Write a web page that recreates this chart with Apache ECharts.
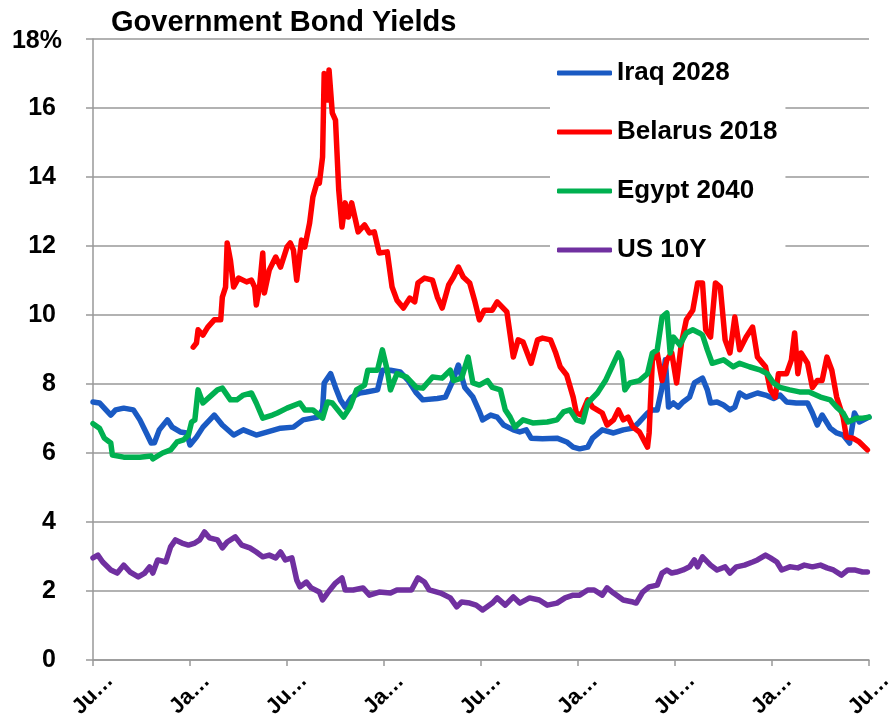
<!DOCTYPE html>
<html>
<head>
<meta charset="utf-8">
<title>Government Bond Yields</title>
<script src="https://cdn.jsdelivr.net/npm/echarts@6/dist/echarts.min.js"></script>
<style>
  html, body { margin: 0; padding: 0; background: #fff; }
  #chart { width: 893px; height: 714px; }
</style>
</head>
<body>
<div id="chart"></div>
<script>
// Months elapsed since July 2010, and yields in percent, for each bond.
const iraqMonths = [0.0,0.4,1.1,1.4,1.9,2.5,2.9,3.3,3.6,3.8,4.1,4.6,4.9,5.4,5.8,6.0,6.4,6.8,7.5,8.0,8.7,9.3,10.1,10.8,11.6,12.4,13.0,13.9,14.2,14.3,14.7,15.0,15.3,15.6,16.0,16.5,16.9,17.6,17.9,18.4,19.0,19.5,20.0,20.4,21.3,21.8,22.2,22.6,23.0,23.5,23.9,24.1,24.6,25.0,25.4,26.0,26.4,26.8,27.1,27.8,28.7,29.3,29.7,30.1,30.6,30.9,31.5,32.2,32.8,33.4,33.8,34.3,34.6,34.9,35.2,35.4,35.6,35.9,36.2,36.5,36.9,37.2,37.7,38.0,38.2,38.6,39.0,39.4,39.7,40.0,40.4,41.1,41.6,42.1,42.5,42.9,43.5,44.2,44.5,44.8,45.1,45.6,46.0,46.4,46.8,47.1,47.4,48.0];
const iraqYields = [7.48,7.45,7.10,7.25,7.30,7.25,6.96,6.58,6.29,6.30,6.67,6.96,6.75,6.61,6.58,6.23,6.46,6.75,7.10,6.81,6.52,6.67,6.52,6.61,6.72,6.75,6.96,7.04,7.25,8.03,8.30,7.90,7.54,7.33,7.62,7.74,7.77,7.83,8.40,8.40,8.35,8.10,7.74,7.54,7.58,7.62,8.03,8.55,7.90,7.62,7.20,6.96,7.10,7.04,6.81,6.67,6.61,6.67,6.43,6.41,6.43,6.32,6.17,6.12,6.17,6.43,6.67,6.58,6.67,6.72,6.90,7.16,7.25,7.25,7.90,8.70,7.33,7.45,7.33,7.48,7.62,8.03,8.17,7.83,7.45,7.48,7.39,7.25,7.33,7.74,7.62,7.74,7.68,7.58,7.68,7.48,7.45,7.45,7.16,6.81,7.10,6.72,6.58,6.52,6.29,7.16,6.90,7.04];

const belarusMonths = [6.2,6.4,6.5,6.8,7.1,7.5,7.9,8.0,8.2,8.3,8.5,8.7,9.0,9.5,9.8,10.0,10.1,10.3,10.5,10.6,10.9,11.3,11.6,12.0,12.2,12.4,12.6,12.9,13.1,13.4,13.6,13.9,14.0,14.2,14.3,14.5,14.6,14.8,15.0,15.2,15.4,15.6,15.8,16.0,16.4,16.8,17.1,17.4,17.7,18.2,18.5,18.8,19.2,19.6,19.9,20.1,20.5,21.0,21.3,21.6,22.0,22.3,22.6,22.9,23.3,23.6,23.9,24.2,24.7,25.0,25.6,26.0,26.3,26.6,27.1,27.5,27.8,28.3,28.6,28.9,29.3,29.7,29.9,30.2,30.6,30.9,31.5,31.8,32.2,32.5,32.8,33.1,33.4,33.8,34.3,34.4,34.6,34.9,35.2,35.5,35.8,36.1,36.4,36.7,37.1,37.4,37.7,37.9,38.2,38.5,38.8,39.1,39.4,39.7,40.0,40.4,40.8,41.1,41.6,41.9,42.2,42.4,42.9,43.2,43.4,43.6,43.8,44.2,44.5,44.8,45.1,45.4,45.7,46.0,46.4,46.6,47.0,47.4,47.9];
const belarusYields = [9.07,9.19,9.57,9.42,9.65,9.86,9.86,10.52,10.81,12.09,11.59,10.81,11.07,10.96,11.01,10.81,10.29,10.81,11.80,10.64,11.30,11.68,11.39,11.97,12.09,11.88,11.01,12.17,11.97,12.67,13.42,13.91,13.82,14.58,17.00,16.23,17.10,15.86,15.65,13.62,12.55,13.25,12.84,13.25,12.41,12.61,12.38,12.41,11.80,11.83,10.81,10.43,10.20,10.49,10.38,10.93,11.07,11.01,10.52,10.20,10.87,11.10,11.39,11.10,10.93,10.43,9.86,10.14,10.14,10.38,10.09,8.78,9.28,9.22,8.60,9.28,9.33,9.28,8.93,8.50,8.26,7.62,7.16,7.10,7.54,7.33,7.16,6.81,6.96,7.25,6.96,7.04,6.75,6.61,6.17,6.58,8.70,8.90,8.10,8.70,8.90,8.03,9.19,9.86,10.14,10.93,10.93,9.57,9.36,10.93,10.81,9.28,8.90,9.94,8.99,9.36,9.65,8.78,8.50,7.83,7.62,8.30,8.30,8.70,9.48,8.30,8.90,8.60,7.90,8.10,8.10,8.78,8.40,7.62,7.04,6.46,6.43,6.32,6.09];

const egyptMonths = [0.0,0.4,0.7,1.1,1.2,1.9,2.9,3.6,3.7,4.3,4.8,5.2,5.6,5.9,6.1,6.3,6.5,6.8,7.2,7.7,8.0,8.5,8.9,9.3,9.8,10.1,10.5,11.1,11.4,12.0,12.8,13.1,13.6,14.2,14.5,14.8,15.5,15.9,16.3,16.8,17.0,17.6,17.9,18.2,18.4,18.8,19.4,20.0,20.4,21.0,21.6,22.1,22.3,22.8,23.2,23.5,23.9,24.4,24.7,25.2,25.5,25.8,26.1,26.6,27.2,28.1,28.7,29.1,29.5,29.9,30.3,30.6,31.2,31.7,32.1,32.5,32.7,32.9,33.2,33.8,34.3,34.6,34.9,35.2,35.5,35.7,35.9,36.3,36.7,37.1,37.5,37.7,38.0,38.3,39.0,39.6,40.0,40.6,41.3,41.7,42.1,42.5,43.1,43.7,44.3,45.0,45.6,46.0,46.4,46.7,47.2,47.6,48.0];
const egyptYields = [6.85,6.72,6.43,6.29,5.94,5.88,5.88,5.91,5.83,6.00,6.09,6.32,6.38,6.52,6.90,6.96,7.83,7.45,7.62,7.83,7.88,7.54,7.54,7.68,7.74,7.45,7.01,7.10,7.16,7.30,7.45,7.25,7.25,7.01,7.48,7.45,7.04,7.33,7.83,7.97,8.40,8.40,8.99,8.40,7.83,8.30,8.20,7.90,7.88,8.20,8.17,8.40,8.10,8.17,8.78,8.03,7.97,8.10,7.90,7.83,7.25,7.04,6.75,6.96,6.87,6.90,6.96,7.19,7.25,6.96,6.90,7.45,7.74,8.10,8.50,8.90,8.70,7.83,8.03,8.10,8.30,8.90,8.99,9.94,10.06,8.90,9.36,9.13,9.48,9.57,9.48,9.42,8.99,8.60,8.70,8.50,8.60,8.50,8.40,8.30,8.03,7.90,7.83,7.77,7.77,7.62,7.54,7.33,7.16,6.90,7.01,7.01,7.04];

const usMonths = [0.0,0.3,0.6,1.1,1.5,1.9,2.3,2.8,3.2,3.5,3.7,4.0,4.5,4.8,5.1,5.5,5.9,6.3,6.6,6.9,7.2,7.7,8.0,8.3,8.8,9.2,9.7,10.1,10.5,10.9,11.3,11.6,11.9,12.3,12.6,12.8,13.2,13.5,14.0,14.2,14.5,15.0,15.4,15.6,16.1,16.7,17.1,17.7,18.4,18.8,19.3,19.7,20.1,20.5,20.8,21.5,22.1,22.5,22.8,23.3,23.7,24.1,24.7,25.0,25.5,26.0,26.4,27.0,27.6,28.1,28.7,29.2,29.7,30.1,30.6,31.0,31.5,31.8,32.2,32.8,33.4,33.6,34.0,34.4,34.9,35.2,35.5,35.8,36.1,36.5,36.9,37.2,37.4,37.7,38.2,38.6,39.1,39.4,39.8,40.3,40.8,41.1,41.6,41.9,42.3,42.6,43.1,43.6,44.0,44.5,45.0,45.4,45.8,46.3,46.7,47.1,47.6,47.9];
const usYields = [2.96,3.04,2.84,2.61,2.52,2.75,2.55,2.41,2.52,2.70,2.52,2.90,2.84,3.28,3.48,3.39,3.33,3.39,3.48,3.71,3.54,3.48,3.25,3.42,3.57,3.33,3.25,3.13,2.99,3.04,2.96,3.13,2.90,2.96,2.32,2.12,2.26,2.09,1.97,1.74,1.94,2.23,2.38,2.03,2.03,2.09,1.88,1.97,1.94,2.03,2.03,2.03,2.38,2.26,2.03,1.94,1.80,1.54,1.68,1.65,1.59,1.45,1.65,1.80,1.59,1.83,1.65,1.80,1.74,1.59,1.65,1.80,1.88,1.88,2.03,2.03,1.88,2.09,1.94,1.74,1.68,1.65,1.97,2.12,2.17,2.52,2.61,2.52,2.55,2.61,2.70,2.90,2.70,2.99,2.75,2.61,2.70,2.52,2.70,2.75,2.84,2.90,3.04,2.96,2.84,2.61,2.70,2.67,2.75,2.70,2.75,2.67,2.61,2.46,2.61,2.61,2.55,2.55];

// Axis ticks every six months, alternating July / January, shown truncated.
const xTickLabels = ['Ju…', 'Ja…'];
const yTickMax = 18;

const seriesDefs = [
  { name: 'Iraq 2028',    months: iraqMonths,    yields: iraqYields,    color: '#1A5AC3' },
  { name: 'Belarus 2018', months: belarusMonths, yields: belarusYields, color: '#FF0000' },
  { name: 'Egypt 2040',   months: egyptMonths,   yields: egyptYields,   color: '#00B050' },
  { name: 'US 10Y',       months: usMonths,      yields: usYields,      color: '#7030A0' }
];

const font = 'Liberation Sans, Arial, sans-serif';
const gridGray = '#999999';

const chart = echarts.init(document.getElementById('chart'), null, { renderer: 'canvas' });

chart.setOption({
  backgroundColor: '#ffffff',
  animation: false,
  title: {
    text: 'Government Bond Yields',
    left: 111,
    top: 8,
    padding: 0,
    textStyle: { fontFamily: font, fontSize: 29, fontWeight: 'bold', color: '#000' }
  },
  legend: {
    orient: 'vertical',
    left: 550,
    top: 45,
    padding: [13, 8, 10, 7],
    backgroundColor: '#ffffff',
    itemGap: 29,
    itemWidth: 55,
    itemHeight: 5,
    icon: 'roundRect',
    textStyle: { fontFamily: font, fontSize: 26, fontWeight: 'bold', color: '#000', lineHeight: 30 },
    data: seriesDefs.map(s => s.name),
    z: 10
  },
  grid: { left: 93, right: 24, top: 39, bottom: 54, containLabel: false, outerBoundsMode: 'none' },
  xAxis: {
    type: 'value',
    min: 0,
    max: 48,
    interval: 6,
    axisLine: { show: true, lineStyle: { color: gridGray, width: 1.5 } },
    axisTick: { show: true, length: 6, lineStyle: { color: gridGray, width: 1.5 } },
    splitLine: { show: false },
    axisLabel: {
      rotate: 45,
      align: 'center',
      verticalAlign: 'middle',
      margin: 34,
      fontFamily: font,
      fontSize: 22,
      fontWeight: 'bold',
      color: '#000',
      showMinLabel: true,
      showMaxLabel: true,
      formatter: v => xTickLabels[(Math.round(v / 6)) % 2]
    }
  },
  yAxis: {
    type: 'value',
    min: 0,
    max: yTickMax,
    interval: 2,
    axisLine: { show: true, lineStyle: { color: gridGray, width: 1.5 } },
    axisTick: { show: true, length: 7, lineStyle: { color: gridGray, width: 1.5 } },
    splitLine: { show: true, lineStyle: { color: gridGray, width: 1.5 } },
    axisLabel: {
      margin: 31,
      fontFamily: font,
      fontSize: 25,
      fontWeight: 'bold',
      color: '#000',
      formatter: v => (v === yTickMax ? '{p|' + v + '%}' : '{n|' + v + '}'),
      rich: {
        p: { fontFamily: font, fontSize: 25, fontWeight: 'bold', color: '#000', padding: [4, 0, 0, 0] },
        n: { fontFamily: font, fontSize: 25, fontWeight: 'bold', color: '#000', padding: [0, 6, 0, 0] }
      }
    }
  },
  series: seriesDefs.map(s => ({
    name: s.name,
    type: 'line',
    data: s.months.map((m, i) => [m, s.yields[i]]),
    showSymbol: false,
    symbol: 'none',
    smooth: false,
    color: s.color,
    lineStyle: { color: s.color, width: 5.5, join: 'round', cap: 'round' },
    itemStyle: { color: s.color },
    emphasis: { disabled: true },
    z: 2
  }))
});
</script>
</body>
</html>
